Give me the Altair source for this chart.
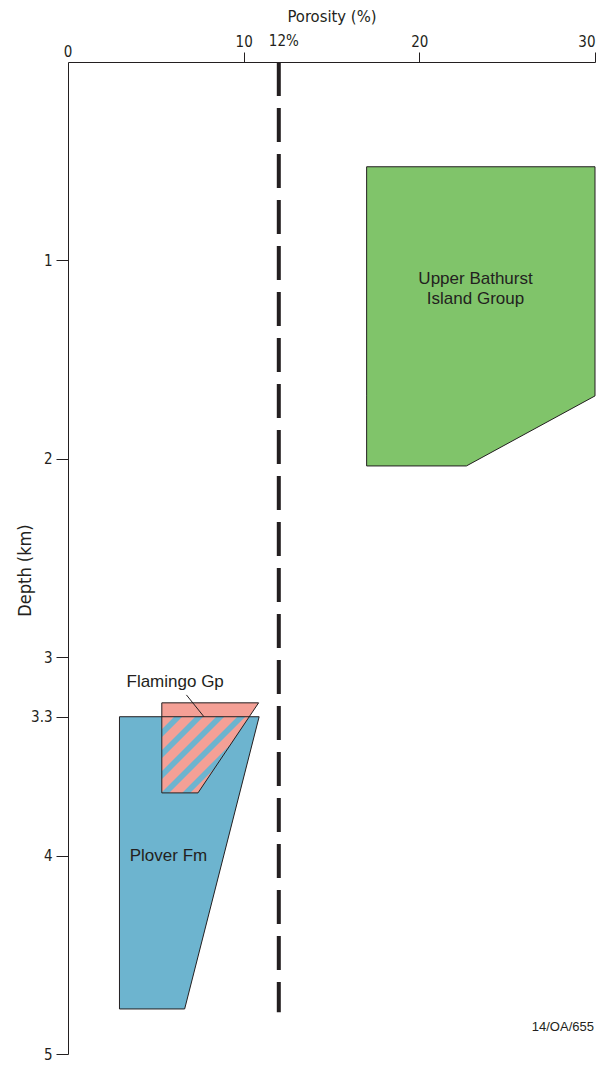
import altair as alt
import pandas as pd

# ---------------- data ----------------
x_ticks = [10, 20, 30]
y_ticks = [1, 2, 3, 3.3, 4, 5]

# polygons as horizontal areas: depth -> [left porosity, right porosity]
ubig_depth = [0.528, 1.683, 2.036]
ubig_left = [17.0, 17.0, 17.0]
ubig_right = [30.0, 30.0, 22.68]

plover_depth = [3.30, 4.773]
plover_left = [2.93, 2.93]
plover_right = [10.88, 6.64]

flam_depth = [3.23, 3.684]
flam_left = [5.34, 5.34]
flam_right = [10.85, 7.40]

cutoff_porosity = [12, 12]
cutoff_depth = [0, 4.79]

leader_x = [6.74, 7.74]
leader_y = [3.19, 3.30]

label_text = ["Upper Bathurst", "Island Group", "Flamingo Gp", "Plover Fm"]
label_x = [23.2, 23.2, 6.10, 5.72]
label_y = [1.096, 1.196, 3.126, 4.003]

# ---------------- style ----------------
W, H = 527, 992
INK = "#231f20"
GREEN = "#80c46a"
BLUE = "#6db4cf"
PINK = "#f4a096"
NARROW = "Liberation Sans Narrow, DejaVu Sans Condensed, sans-serif"
SANS = "Liberation Sans, Arial, sans-serif"

PX, PY = W / 30.0, H / 5.0

# ---------------- hatching (blue stripes on pink where Flamingo overlaps Plover) ----------------
def right_edge(y):
    t = (y - flam_depth[0]) / (flam_depth[1] - flam_depth[0])
    return flam_right[0] + t * (flam_right[1] - flam_right[0])

top = plover_depth[0]
region = [
    (flam_left[0] * PX, top * PY),
    (right_edge(top) * PX, top * PY),
    (flam_right[1] * PX, flam_depth[1] * PY),
    (flam_left[1] * PX, flam_depth[1] * PY),
]

def clip(poly, c, keep_ge):
    out = []
    n = len(poly)
    for i in range(n):
        P, Q = poly[i], poly[(i + 1) % n]
        fp = P[0] + P[1] - c
        fq = Q[0] + Q[1] - c
        if not keep_ge:
            fp, fq = -fp, -fq
        if fp >= 0:
            out.append(P)
        if (fp >= 0) != (fq >= 0):
            t = fp / (fp - fq)
            out.append((P[0] + t * (Q[0] - P[0]), P[1] + t * (Q[1] - P[1])))
    return out

STRIPE_C0 = 765.0
STRIPE_PERIOD = 21.0
STRIPE_W = 8.0
stripe_rows = []
for k in range(-20, 30):
    c = STRIPE_C0 + k * STRIPE_PERIOD
    poly = clip(region, c - STRIPE_W / 2, True)
    if len(poly) < 3:
        continue
    poly = clip(poly, c + STRIPE_W / 2, False)
    if len(poly) < 3:
        continue
    ys = sorted(set(round(p[1], 6) for p in poly))
    if len(ys) < 2:
        continue
    n = len(poly)
    for y in ys:
        xs = []
        for i in range(n):
            P, Q = poly[i], poly[(i + 1) % n]
            lo, hi = min(P[1], Q[1]) - 1e-6, max(P[1], Q[1]) + 1e-6
            if lo <= y <= hi:
                if abs(Q[1] - P[1]) < 1e-9:
                    xs += [P[0], Q[0]]
                else:
                    t = (y - P[1]) / (Q[1] - P[1])
                    xs.append(P[0] + t * (Q[0] - P[0]))
        stripe_rows.append({"s": k, "y": y / PY, "x": min(xs) / PX, "x2": max(xs) / PX})
stripes = pd.DataFrame(stripe_rows)

# ---------------- encodings ----------------
xscale = alt.Scale(domain=[0, 30], nice=False, zero=False)
yscale = alt.Scale(domain=[0, 5], nice=False, zero=False, reverse=True)

x_axis = alt.Axis(
    orient="top", values=x_ticks, title="Porosity (%)", grid=False,
    tickSize=10, labelPadding=3, labelFont=NARROW, labelFontSize=15,
    labelColor=INK, tickColor=INK, domainColor=INK,
    titleFont=NARROW, titleFontSize=16.5, titleFontWeight="normal", titleColor=INK,
    titleX=W / 2, titleY=-46, titleBaseline="middle", titleAlign="center",
)
y_axis = alt.Axis(
    orient="left", values=y_ticks, title="Depth (km)", grid=False,
    labelExpr="toString(datum.value)",
    tickSize=12, labelPadding=4, labelFont=NARROW, labelFontSize=15,
    labelColor=INK, tickColor=INK, domainColor=INK,
    titleFont=NARROW, titleFontSize=18, titleFontWeight="normal", titleColor=INK,
    titleX=-43, titleY=508, titleAngle=270, titleBaseline="middle", titleAlign="center",
)

X = alt.X("x:Q", scale=xscale, axis=x_axis)
Y = alt.Y("y:Q", scale=yscale, axis=y_axis)


def poly_df(depth, left, right):
    return pd.DataFrame({"y": depth, "x": left, "x2": right})


def area_layer(df, fill, stroke=True, filled=True):
    kw = dict(orient="horizontal", interpolate="linear")
    if filled:
        kw["fill"] = fill
        kw["fillOpacity"] = 1
    else:
        kw["fill"] = "transparent"
    if stroke:
        kw["stroke"] = INK
        kw["strokeWidth"] = 1
    return alt.Chart(df).mark_area(**kw).encode(y=Y, x=X, x2="x2:Q")


ubig = poly_df(ubig_depth, ubig_left, ubig_right)
plover = poly_df(plover_depth, plover_left, plover_right)
flam = poly_df(flam_depth, flam_left, flam_right)

green_layer = area_layer(ubig, GREEN)
blue_fill = area_layer(plover, BLUE, stroke=False)
pink_fill = area_layer(flam, PINK, stroke=False)
stripe_layer = alt.Chart(stripes).mark_area(
    orient="horizontal", interpolate="linear", fill=BLUE, strokeWidth=0
).encode(y=Y, x=X, x2="x2:Q", detail="s:N")
blue_line = area_layer(plover, BLUE, filled=False)
pink_line = area_layer(flam, PINK, filled=False)

cutoff = alt.Chart(pd.DataFrame({"x": [cutoff_porosity[0]], "y": [cutoff_depth[0]], "y2": [cutoff_depth[1]]})).mark_rule(
    color=INK, strokeWidth=4, strokeDash=[34, 12]
).encode(x=X, y=Y, y2="y2:Q")

leader = alt.Chart(pd.DataFrame({"x": [leader_x[0]], "x2": [leader_x[1]], "y": [leader_y[0]], "y2": [leader_y[1]]})).mark_rule(
    color=INK, strokeWidth=1
).encode(x=X, x2="x2:Q", y=Y, y2="y2:Q")

labels = alt.Chart(pd.DataFrame({"x": label_x, "y": label_y, "t": label_text})).mark_text(
    font=SANS, fontSize=17, color=INK, align="center", baseline="middle"
).encode(x=X, y=Y, text="t:N")

zero_label = alt.Chart(pd.DataFrame({"x": [0], "y": [0], "t": ["0"]})).mark_text(
    font=NARROW, fontSize=15, color=INK, align="center", baseline="alphabetic", dy=-5
).encode(x=X, y=Y, text="t:N")

cut_label = alt.Chart(pd.DataFrame({"x": [cutoff_porosity[0]], "y": [0], "t": ["12%"]})).mark_text(
    font=NARROW, fontSize=15, color=INK, align="center", baseline="alphabetic", dy=-16, dx=5
).encode(x=X, y=Y, text="t:N")

ref_label = alt.Chart(pd.DataFrame({"x": [29.94], "y": [4.865], "t": ["14/OA/655"]})).mark_text(
    font=SANS, fontSize=13, color=INK, align="right", baseline="middle"
).encode(x=X, y=Y, text="t:N")

chart = alt.layer(
    green_layer, blue_fill, pink_fill, stripe_layer, blue_line, pink_line,
    cutoff, leader, labels, zero_label, cut_label, ref_label,
).properties(
    width=W, height=H,
    autosize=alt.AutoSizeParams(type="none"),
    padding={"left": 60, "top": 54, "right": 7, "bottom": 9},
    background="white",
).configure_view(stroke=None)

chart.save("out.html", embed_options={"renderer": "svg", "actions": False})
